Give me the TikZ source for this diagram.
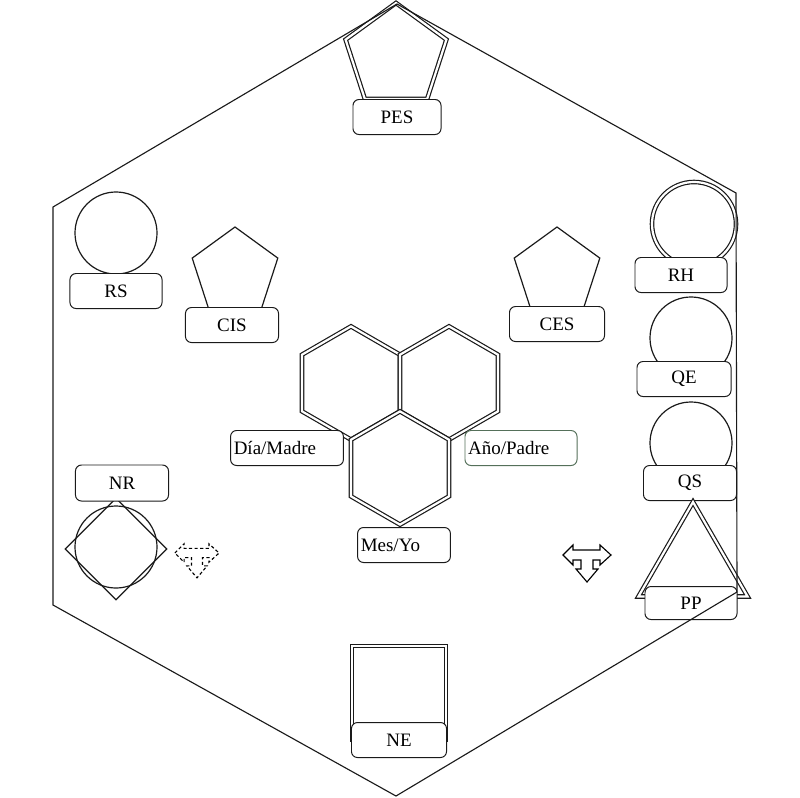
\documentclass[tikz,border=0pt]{standalone}
\usepackage{fontspec}
\setmainfont{Liberation Serif}
\usetikzlibrary{shapes.geometric}
\definecolor{Ink}{HTML}{1A1A1A}
\definecolor{Sage}{HTML}{55705A}
\tikzset{
  shapeline/.style={draw=Ink,line width=0.85pt,fill=white,inner sep=0pt},
  twin/.style={double=white,double distance=0.55mm},
  penta/.style={shapeline,regular polygon,regular polygon sides=5},
  hexa/.style={shapeline,twin,regular polygon,regular polygon sides=6,rotate=30,minimum size=28.3mm},
  ball/.style={shapeline,circle,minimum size=20.5mm},
  tag/.style={draw=Ink,fill=white,line width=0.7pt,rounded corners=1.5mm,minimum width=23mm,
    minimum height=8.75mm,inner sep=0pt,font=\fontsize{13.5}{15}\selectfont},
  sidetag/.style={tag,align=left,inner xsep=0.8mm,text width=#1},
  tarrow/.pic={
    \draw[pic actions,line width=0.8pt,line join=miter]
      (-24,0) -- (-14,-10) -- (-14,-5) -- (13,-5) -- (13,-10) -- (24,0) -- (13,10) -- (13,5)
      -- (6,5) -- (6,14) -- (11,14) -- (0,27) -- (-11,14) -- (-6,14) -- (-6,5) -- (-14,5)
      -- (-14,10) -- cycle;
  }
}

\begin{document}
\begin{tikzpicture}[x=0.025cm,y=-0.025cm]
  \useasboundingbox (0,0) rectangle (800,797);

  % top pentagon
  \node[penta,twin,minimum size=26.5mm] (pes) at (396,56) {};
  \node[tag,minimum width=22mm] (pesTag) at (397,117) {PES};

  % left column
  \node[ball] (rs) at (116,233) {};
  \node[tag] (rsTag) at (116,291) {RS};
  \node[penta,minimum size=22.5mm] (cis) at (235,272) {};
  \node[tag,minimum width=23.25mm] (cisTag) at (232,325) {CIS};
  \node[ball] (nrBall) at (116,547) {};
  \node[shapeline,fill=none,diamond,minimum size=25.5mm] (nrKite) at (116,549) {};
  \node[tag,minimum width=23.25mm,minimum height=9mm] (nrTag) at (122,483) {NR};
  \pic[dashed,dash pattern=on 0.8mm off 0.6mm,scale=0.92] at (197,553) {tarrow};

  % right column
  \node[penta,minimum size=22.5mm] (ces) at (557,272) {};
  \node[tag,minimum width=23.75mm] (cesTag) at (557,324) {CES};
  \node[ball,twin,minimum size=21mm] (rh) at (694,224) {};
  \node[tag] (rhTag) at (681,275) {RH};
  \node[ball] (qe) at (691,338) {};
  \node[tag,minimum width=23.5mm] (qeTag) at (684,379) {QE};
  \node[ball] (qs) at (691,443) {};
  \node[tag,minimum width=23.25mm] (qsTag) at (690,483) {QS};
  \node[shapeline,twin,regular polygon,regular polygon sides=3,minimum size=31.5mm] (pp) at (693,565) {};
  \node[tag,minimum height=8.25mm] (ppTag) at (691,603) {PP};
  \pic at (587,555) {tarrow};

  % bottom square
  \node[shapeline,twin,minimum size=23.5mm] (ne) at (399,693) {};
  \node[tag,minimum width=23.75mm] (neTag) at (399,740) {NE};

  % centre hexagons
  \node[hexa] (hexDia) at (351,383) {};
  \node[hexa] (hexAno) at (449,383) {};
  \node[hexa] (hexMes) at (400,468) {};
  \node[sidetag=26.6mm] (diaTag) at (287,448) {Día/Madre};
  \node[sidetag=26.4mm,draw=Sage] (anoTag) at (521,448) {Año/Padre};
  \node[sidetag=21.6mm] (mesTag) at (404,545) {Mes/Yo};

  % outer frame
  \draw[draw=Ink,line width=0.8pt] (397,4) -- (736,193) -- (737,592) -- (396,796)
    -- (53,605) -- (53,207) -- cycle;
\end{tikzpicture}
\end{document}
